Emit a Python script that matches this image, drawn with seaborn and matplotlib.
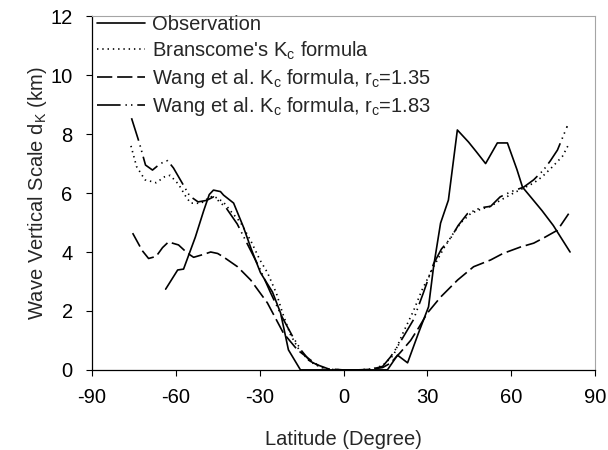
import matplotlib
matplotlib.use("Agg")
import matplotlib.pyplot as plt
import seaborn as sns

# ------------------------------------------------------------
# Data (latitude in degrees, scale in km)
# ------------------------------------------------------------

obs_lat = [-63.6, -59.3, -57.2, -53, -50, -48, -46.5, -44, -42.9, -39.3,
           -35.8, -33, -29.7, -25.4, -22.5, -19.7, -15.4, -10, -5, 0, 5,
           10, 15.7, 19.3, 22.9, 26.8, 30.4, 32.2, 34.7, 37.5, 40.7, 44.7,
           47.5, 50.8, 55, 58.6, 62, 64, 66.9, 71, 75, 81]
obs_val = [2.74, 3.39, 3.42, 4.5, 5.4, 5.95, 6.1, 6.05, 5.93, 5.66,
           4.85, 4.1, 3.3, 2.64, 1.93, 0.68, 0.0, 0.0, 0.0, 0.0, 0.0,
           0.0, 0.0, 0.5, 0.24, 1.25, 2.14, 3.5, 4.98, 5.76, 8.14, 7.73,
           7.4, 7.0, 7.7, 7.7, 6.8, 6.2, 5.87, 5.4, 4.9, 4.0]

bran_lat = [-76, -74, -71, -67, -64, -62, -59, -56.5, -54.7, -51, -48,
            -46.5, -43, -40, -36.8, -33, -30, -27.2, -24, -21.8, -19, -16,
            -12, -8, -5, 0, 5, 10, 14, 17.9, 21, 25, 28, 32.2, 36, 39.3,
            42, 45.4, 49, 52.6, 56, 60.8, 64, 68, 71, 74.7, 78.3, 80.5]
bran_val = [7.6, 6.9, 6.45, 6.35, 6.55, 6.6, 6.3, 5.9, 5.66, 5.65, 5.85,
            5.9, 5.7, 5.35, 5.0, 4.35, 3.75, 3.3, 2.6, 1.93, 1.2, 0.7,
            0.28, 0.08, 0.02, 0.0, 0.0, 0.02, 0.15, 0.5, 1.2, 2.0, 2.7, 3.5,
            4.15, 4.64, 5.0, 5.3, 5.45, 5.55, 5.75, 6.0, 6.15, 6.34, 6.55,
            6.89, 7.25, 7.65]

w135_lat = [-75.4, -72, -69.7, -67, -64.7, -62.6, -59, -55.8, -53.6, -50,
            -47.5, -45, -42.9, -37.9, -33.2, -27.2, -21.5, -16.5, -12, -9.3,
            -5, 0, 5, 10, 14, 16.8, 20.4, 24, 27, 30, 34.7, 40.8, 46.5,
            52.6, 57, 63.3, 68, 72, 76.5, 80.5]
w135_val = [4.64, 4.05, 3.78, 3.85, 4.15, 4.34, 4.24, 3.96, 3.82, 3.92,
            4.0, 3.95, 3.83, 3.5, 3.05, 2.27, 1.25, 0.68, 0.35, 0.17,
            0.02, 0.0, 0.0, 0.02, 0.08, 0.23, 0.6, 1.0, 1.45, 1.93, 2.47,
            3.05, 3.5, 3.73, 3.95, 4.17, 4.3, 4.5, 4.74, 5.3]

w183_lat = [-75.8, -73, -70.8, -68.3, -65.5, -62.9, -60.8, -58.3, -55, -52,
            -49, -46.5, -45.8, -42, -38, -34, -30, -26, -22, -18, -15, -12,
            -8, -5, 0, 5, 10, 14, 16.8, 20, 25, 28.5, 32.2, 35, 38.3, 41,
            44.3, 49, 52.6, 56, 60, 64.4, 68, 71.5, 74, 76.5, 80]
w183_val = [8.54, 7.7, 6.95, 6.78, 7.0, 7.1, 6.85, 6.44, 5.9, 5.7,
            5.75, 5.87, 5.83, 5.5, 4.95, 4.2, 3.45, 2.6, 1.8, 1.1, 0.65,
            0.3, 0.1, 0.02, 0.0, 0.0, 0.02, 0.12, 0.44, 0.9, 1.7, 2.6, 3.6,
            4.1, 4.47, 4.9, 5.3, 5.5, 5.55, 5.87, 6.05, 6.2, 6.45, 6.78,
            7.1, 7.46, 8.27]

labels = [
    "Observation",
    r"Branscome's K$_\mathregular{c}$ formula",
    r"Wang et al. K$_\mathregular{c}$ formula, r$_\mathregular{c}$=1.35",
    r"Wang et al. K$_\mathregular{c}$ formula, r$_\mathregular{c}$=1.83",
]

x_ticks = [-90, -60, -30, 0, 30, 60, 90]
y_ticks = [0, 2, 4, 6, 8, 10, 12]

# ------------------------------------------------------------
# Style
# ------------------------------------------------------------

sns.set_style("ticks")
plt.rcParams["font.family"] = ["Liberation Sans", "DejaVu Sans"]
plt.rcParams["mathtext.fontset"] = "custom"
plt.rcParams["mathtext.rm"] = "Liberation Sans"
plt.rcParams["lines.scale_dashes"] = False
plt.rcParams["axes.unicode_minus"] = False

styles = [
    "-",
    (0, (1.0, 2.8)),
    (0, (11, 3.5)),
    (0, (17, 3.5, 1, 3, 1, 3.5)),
]

fig = plt.figure(figsize=(6.08, 4.5), dpi=100)
ax = fig.add_axes([0.151, 0.178, 0.828, 0.786])

series = [
    (obs_lat, obs_val),
    (bran_lat, bran_val),
    (w135_lat, w135_val),
    (w183_lat, w183_val),
]

for (lat, val), label, ls in zip(series, labels, styles):
    sns.lineplot(
        x=lat,
        y=val,
        ax=ax,
        color="black",
        linewidth=1.2,
        linestyle=ls,
        label=label,
        sort=False,
    )

ax.set_xlim(-90, 90)
ax.set_ylim(0, 12)
ax.set_xticks(x_ticks)
ax.set_yticks(y_ticks)
ax.tick_params(direction="out", length=4.3, width=0.8, labelsize=14.5,
               colors="black")
ax.tick_params(axis="x", pad=8.5)
ax.tick_params(axis="y", pad=9.5)

ax.set_xlabel("Latitude (Degree)", fontsize=14.5, labelpad=17)
ax.set_ylabel(r"Wave Vertical Scale d$_\mathregular{K}$ (km)", fontsize=14.5,
              labelpad=1)

for side in ["left", "bottom"]:
    ax.spines[side].set_color("black")
    ax.spines[side].set_linewidth(0.9)
for side in ["top", "right"]:
    ax.spines[side].set_visible(True)
    ax.spines[side].set_color("#a5a5a5")
    ax.spines[side].set_linewidth(0.8)

ax.legend(
    loc="upper left",
    bbox_to_anchor=(-0.006, 1.025),
    frameon=False,
    fontsize=14.5,
    handlelength=2.4,
    handletextpad=0.35,
    labelspacing=0.25,
    borderaxespad=0.2,
    borderpad=0.2,
)

fig.savefig("out.png", dpi=100)
plt.close(fig)
